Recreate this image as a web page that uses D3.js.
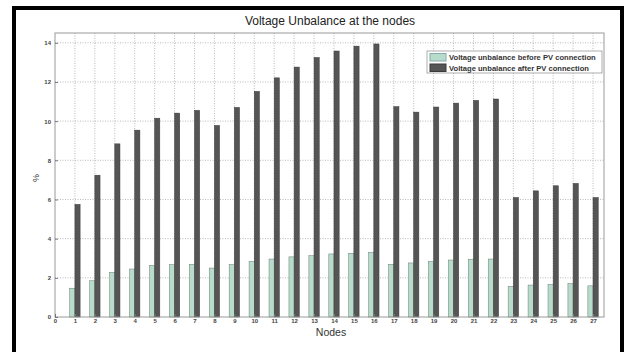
<!DOCTYPE html>
<html><head><meta charset="utf-8">
<script src="https://cdn.jsdelivr.net/npm/d3@7"></script>
<style>body{margin:0;background:#fff}svg{display:block}</style>
</head><body>
<script>
const nodes = d3.range(1, 28);
const before = [1.47,1.85,2.28,2.45,2.64,2.67,2.69,2.50,2.67,2.84,2.96,3.07,3.13,3.22,3.25,3.29,2.69,2.76,2.83,2.91,2.95,2.96,1.56,1.63,1.66,1.70,1.59];
const after = [5.75,7.24,8.84,9.54,10.15,10.41,10.55,9.78,10.70,11.52,12.21,12.76,13.25,13.58,13.83,13.94,10.74,10.46,10.72,10.92,11.06,11.13,6.10,6.44,6.70,6.82,6.10];
const xTicks = d3.range(0, 28);
const yTicks = [0,2,4,6,8,10,12,14];
const seriesNames = ["Voltage unbalance before PV connection","Voltage unbalance after PV connection"];
const colors = ["#b7dccb","#555555"];

const W = 637, H = 352;
const svg = d3.select("body").append("svg").attr("width", W).attr("height", H);
svg.append("rect").attr("width", W).attr("height", H).attr("fill", "#fff");
// black frame
svg.append("path").attr("d", `M14,352 V8 H622 V352`).attr("fill","none").attr("stroke","#000").attr("stroke-width",4);

const m = {l:55, r:604, t:33, b:317};
const x = d3.scaleLinear().domain([0, 27.55]).range([m.l, m.r]);
const y = d3.scaleLinear().domain([0, 14.5]).range([m.b, m.t]);

// grid
const g = svg.append("g");
g.selectAll(".vx").data(xTicks.slice(1)).join("line")
  .attr("x1", d=>x(d)).attr("x2", d=>x(d)).attr("y1", m.t).attr("y2", m.b)
  .attr("stroke","#a8a8a8").attr("stroke-width",0.8).attr("stroke-dasharray","1,1.5");
g.selectAll(".hy").data(yTicks.slice(1)).join("line")
  .attr("x1", m.l).attr("x2", m.r).attr("y1", d=>y(d)).attr("y2", d=>y(d))
  .attr("stroke","#a8a8a8").attr("stroke-width",0.8).attr("stroke-dasharray","1,1.5");

// bars
const bw = 0.26;
const bars = svg.append("g");
bars.selectAll(".b0").data(nodes).join("rect")
  .attr("x", (d)=>x(d - bw)).attr("width", x(bw)-x(0))
  .attr("y", (d,i)=>y(before[i])).attr("height", (d,i)=>y(0)-y(before[i]))
  .attr("fill", colors[0]).attr("stroke","#6a7a72").attr("stroke-width",0.5);
bars.selectAll(".b1").data(nodes).join("rect")
  .attr("x", (d)=>x(d)).attr("width", x(bw)-x(0))
  .attr("y", (d,i)=>y(after[i])).attr("height", (d,i)=>y(0)-y(after[i]))
  .attr("fill", colors[1]).attr("stroke","#3a3a3a").attr("stroke-width",0.5);

// axes box
svg.append("rect").attr("x", m.l).attr("y", m.t).attr("width", m.r-m.l).attr("height", m.b-m.t)
  .attr("fill","none").attr("stroke","#9a9a9a").attr("stroke-width",1);

const xAxis = svg.append("g").attr("transform", `translate(0,${m.b})`)
  .call(d3.axisBottom(x).tickValues(xTicks).tickSize(-3).tickPadding(2).tickFormat(d3.format("d")));
const yAxis = svg.append("g").attr("transform", `translate(${m.l},0)`)
  .call(d3.axisLeft(y).tickValues(yTicks).tickSize(-3).tickPadding(4).tickFormat(d3.format("d")));
[xAxis, yAxis].forEach(a => {
  a.select(".domain").remove();
  a.selectAll(".tick line").attr("stroke","#777");
  a.selectAll("text").attr("font-family","Liberation Sans, Arial, sans-serif")
    .attr("font-size",6).attr("font-weight","bold").attr("fill","#444");
});

// title & labels
svg.append("text").attr("x", 330).attr("y", 25).attr("text-anchor","middle")
  .attr("font-family","Liberation Sans, Arial, sans-serif").attr("font-size",12).attr("fill","#222")
  .text("Voltage Unbalance at the nodes");
svg.append("text").attr("x", 331).attr("y", 336).attr("text-anchor","middle")
  .attr("font-family","Liberation Sans, Arial, sans-serif").attr("font-size",10.5).attr("fill","#333")
  .text("Nodes");
svg.append("text").attr("transform","translate(39,178) rotate(-90)").attr("text-anchor","middle")
  .attr("font-family","Liberation Sans, Arial, sans-serif").attr("font-size",9).attr("fill","#333")
  .text("%");

// legend
const lg = svg.append("g").attr("transform","translate(427,51)");
lg.append("rect").attr("width",175).attr("height",22).attr("fill","#fff").attr("stroke","#999").attr("stroke-width",0.8);
seriesNames.forEach((s,i)=>{
  lg.append("rect").attr("x",3).attr("y",2.5+i*10.5).attr("width",16).attr("height",7.5)
    .attr("fill",colors[i]).attr("stroke", i? "#3a3a3a":"#8aa");
  lg.append("text").attr("x",22).attr("y",9.3+i*10.5)
    .attr("font-family","Liberation Sans, Arial, sans-serif").attr("font-size",7.6).attr("font-weight","bold").attr("fill","#333")
    .text(s);
});
</script>
</body></html>
